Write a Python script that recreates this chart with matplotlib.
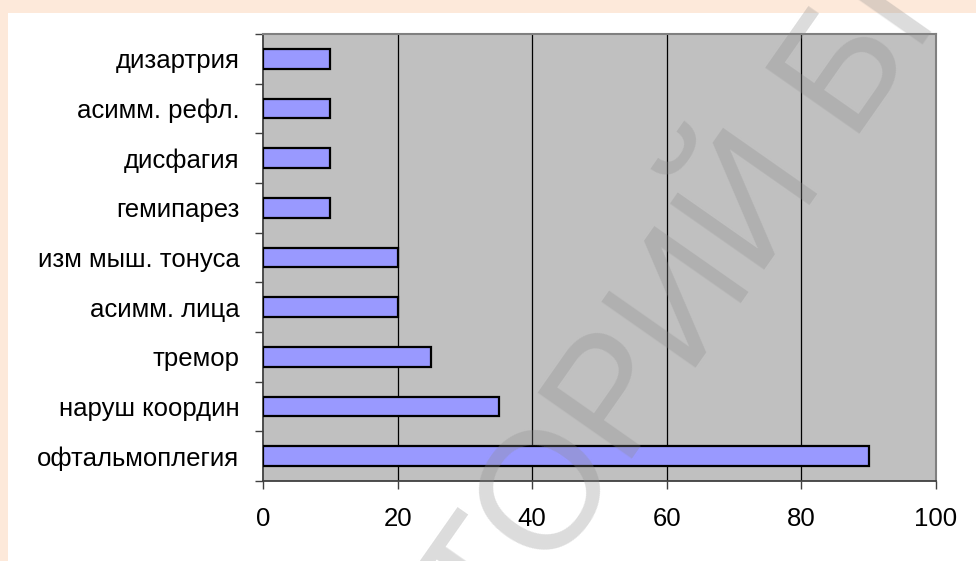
import matplotlib
matplotlib.use("Agg")
import matplotlib.pyplot as plt
import numpy as np

categories = ["офтальмоплегия", "наруш координ", "тремор", "асимм. лица",
              "изм мыш. тонуса", "гемипарез", "дисфагия", "асимм. рефл.", "дизартрия"]
values = [90, 35, 25, 20, 20, 10, 10, 10, 10]
x_ticks = [0, 20, 40, 60, 80, 100]

plt.rcParams["font.family"] = ["Liberation Sans", "DejaVu Sans"]

W, H = 976, 561
fig = plt.figure(figsize=(W / 100, H / 100), dpi=100)
fig.patch.set_facecolor("white")

# peach frame along the top and left edges
fig.patches.append(plt.Rectangle((0, 1 - 13 / H), 1, 13 / H, transform=fig.transFigure,
                                 facecolor="#FDE9DA", edgecolor="none", zorder=0))
fig.patches.append(plt.Rectangle((0, 0), 8 / W, 1, transform=fig.transFigure,
                                 facecolor="#FDE9DA", edgecolor="none", zorder=0))

left, right, top, bottom = 263, 936, 34, 481
ax = fig.add_axes([left / W, 1 - bottom / H, (right - left) / W, (bottom - top) / H])
ax.set_facecolor("#C0C0C0")

y = np.arange(len(categories))
ax.barh(y, values, height=0.4, color="#9999FF", edgecolor="black", linewidth=1.6, zorder=3)

ax.set_xlim(0, 100)
ax.set_ylim(-0.5, len(categories) - 0.5)
ax.set_xticks(x_ticks)
ax.set_xticklabels([str(v) for v in x_ticks], fontsize=18.5)
ax.set_yticks(y)
ax.set_yticklabels(categories, fontsize=18.5)
ax.set_yticks(np.arange(-0.5, len(categories), 1.0), minor=True)

ax.tick_params(axis="y", which="major", length=0, pad=17)
ax.tick_params(axis="y", which="minor", length=6, width=1, color="#404040")
ax.tick_params(axis="x", which="major", length=6, width=1, color="#404040", pad=13)

for xv in x_ticks[1:-1]:
    ax.axvline(xv, color="black", linewidth=0.9, zorder=1)

for side in ("top", "right"):
    ax.spines[side].set_color("#808080")
    ax.spines[side].set_linewidth(1.5)
for side in ("left", "bottom"):
    ax.spines[side].set_color("#404040")
    ax.spines[side].set_linewidth(1.3)

# faint diagonal repository watermark
fig.text(0.509, -0.164, "ТОРИЙ БГМУ", fontsize=120, color="#8C8C8C", alpha=0.3,
         rotation=55, rotation_mode="anchor", ha="left", va="baseline", zorder=10)

fig.savefig("out.png", dpi=100)
